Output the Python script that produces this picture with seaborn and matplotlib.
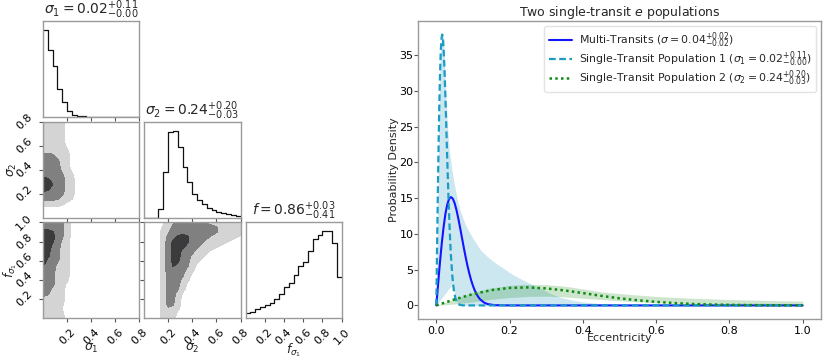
import numpy as np
import pandas as pd
import matplotlib
matplotlib.use("Agg")
import matplotlib.pyplot as plt
import seaborn as sns

# ------------------------------------------------------------------ data
# corner-plot 1D marginals (relative counts, 20 bins each)
sigma1_edges_range = (0.0, 0.8)
sigma2_edges_range = (0.0, 0.8)
f_edges_range = (0.0, 1.0)
sigma1_hist = [265, 202, 154, 84, 46, 17, 6, 3, 2, 1.5, 1, 1, 1, 1, 1, 1, 1, 1, 1, 1]
sigma2_hist = [0, 0, 0, 26, 140, 258, 263, 213, 153, 108, 73, 53, 41, 31, 23, 18, 15, 11, 9, 7]
f_hist = [15, 18, 28, 34, 38, 45, 58, 72, 92, 105, 130, 155, 168, 200, 237, 250, 260, 260, 225, 122]

# corner-plot 2D credible-region levels (0 = outside, 1..3 = nested regions)
# rows from top of panel to bottom, columns from left to right (21 x 21)
grid_s1_s2 = [
    "11111", "11111", "11111", "11111", "11111", "11111", "111111",
    "222111", "222211", "222211", "222211", "2222211", "3322211",
    "3332211", "3322211", "2222211", "2222111", "11111", "", "", "",
]
grid_s1_f = [
    "222221", "222221", "333221", "333221", "333211", "332211", "332211",
    "332211", "322211", "322111", "222111", "222111", "222111", "22211",
    "22111", "22111", "11111", "11111", "1111", "11111", "11111",
]
grid_s2_f = [
    "000001122222211111111", "000011222222222211111", "000011222222222211111",
    "000012233322221111110", "000012333322211111000", "000012333222111100000",
    "000012332221110000000", "000012332211100000000", "000012332211000000000",
    "000012322210000000000", "000012322110000000000", "0000122221",
    "0000122211", "000012221", "000012221", "00001221", "00001221",
    "00001221", "00001211", "0000111", "0000111",
]

corner_titles = [r"$\sigma_1 = 0.02^{+0.11}_{-0.00}$",
                 r"$\sigma_2 = 0.24^{+0.20}_{-0.03}$",
                 r"$f = 0.86^{+0.03}_{-0.41}$"]
corner_labels = [r"$\sigma_1$", r"$\sigma_2$", r"$f_{\sigma_1}$"]
sigma_ticks = [0.2, 0.4, 0.6, 0.8]
f_ticks = [0.2, 0.4, 0.6, 0.8, 1.0]

# right panel: eccentricity distributions
ecc_multi = [0, .005, .01, .015, .02, .025, .03, .035, .04, .045, .05, .055, .06,
             .065, .07, .075, .08, .085, .09, .095, .1, .105, .11, .115, .12, .13,
             .14, .16, .2, .3, 1.0]
pdf_multi = [0, 3.10, 6.06, 8.74, 11.03, 12.86, 14.15, 14.92, 15.16, 14.94, 14.31,
             13.36, 12.17, 10.85, 9.47, 8.08, 6.77, 5.56, 4.48, 3.54, 2.75, 2.09,
             1.57, 1.15, 0.83, 0.41, 0.19, 0.03, 0, 0, 0]

ecc_pop1 = [0, .002, .004, .006, .008, .010, .012, .014, .016, .018, .020, .022,
            .024, .026, .028, .030, .032, .034, .036, .038, .040, .044, .048, .052,
            .056, .060, .064, .072, .08, .1, 1.0]
pdf_pop1 = [0, 7.75, 15.2, 21.85, 27.6, 32.14, 35.4, 37.3, 37.9, 37.34, 35.77, 33.4,
            30.44, 27.13, 23.66, 20.2, 16.9, 13.9, 11.19, 8.85, 6.86, 3.92, 2.08,
            1.03, 0.48, 0.21, 0.084, 0.011, 0, 0, 0]

ecc_pop2 = [0, .05, .1, .15, .2, .25, .3, .35, .4, .45, .5, .55, .6, .65, .7, .75,
            .8, .85, .9, .95, 1.0]
pdf_pop2 = [0, 0.85, 1.59, 2.14, 2.45, 2.52, 2.38, 2.10, 1.73, 1.34, 0.99, 0.72,
            0.50, 0.33, 0.20, 0.13, 0.08, 0.05, 0.03, 0.02, 0.01]

band1_ecc = [0, .004, .008, .012, .016, .020, .024, .028, .032, .036, .040, .044,
             .048, .052, .056, .060, .064, .07, .08, .1, .12, .14, .16, .18, .2,
             .22, .25, .28, .31, .34, .37, .4, .45, .5, .6, .8, 1.0]
band1_hi = [0, 16, 29, 36.5, 38.3, 37.5, 32, 27.5, 24, 21.5, 20, 18.5, 17.3, 16.2,
            15.2, 14.3, 13.5, 12.6, 11.2, 9.4, 7.8, 6.8, 6.0, 5.3, 4.6, 4.0, 3.2,
            2.5, 1.7, 1.1, 0.75, 0.48, 0.25, 0.12, 0.04, 0.01, 0]
band1_lo = [0, .28, .55, .83, 1.1, 1.38, 1.65, 1.9, 2.2, 2.45, 2.7, 2.9, 2.08, 1.03,
            .48, .21, .08, 0, 0, 0, 0, 0, 0, 0, 0, 0, 0, 0, 0, 0, 0, 0, 0, 0, 0, 0, 0]

band2_ecc = [0, .05, .1, .15, .2, .25, .3, .35, .4, .45, .5, .6, .7, .8, .9, 1.0]
band2_hi = [0, .9, 1.8, 2.45, 2.8, 2.95, 2.9, 2.7, 2.3, 1.9, 1.65, 1.25, 1.0, .83, .7, .6]
band2_lo = [0, .2, .5, .85, 1.1, 1.25, 1.3, 1.2, 1.0, .83, .65, .37, .22, .14, .08, .05]

legend_labels = [r"Multi-Transits ($\sigma = 0.04^{+0.02}_{-0.02}$)",
                 r"Single-Transit Population 1 ($\sigma_1 = 0.02^{+0.11}_{-0.00}$)",
                 r"Single-Transit Population 2 ($\sigma_2 = 0.24^{+0.20}_{-0.03}$)"]

# ------------------------------------------------------------------ style
sns.set_theme(style="white")
plt.rcParams["font.family"] = ["DejaVu Sans"]
plt.rcParams["mathtext.fontset"] = "dejavusans"
SPINE = "#9a9a9a"
plt.rcParams.update({
    "axes.edgecolor": SPINE,
    "axes.linewidth": 1.0,
    "xtick.bottom": True, "ytick.left": True,
    "xtick.color": "#555555", "ytick.color": "#555555",
    "xtick.labelcolor": "black", "ytick.labelcolor": "black",
    "xtick.major.size": 3, "ytick.major.size": 3,
    "xtick.major.width": 0.8, "ytick.major.width": 0.8,
})

fig = plt.figure(figsize=(8.3, 3.62), dpi=100)
W, H = 830.0, 362.0


def px_axes(x0, y0, x1, y1):
    return fig.add_axes([x0 / W, 1 - y1 / H, (x1 - x0) / W, (y1 - y0) / H])


def soften(z):
    """light 3x3 binomial smoothing of the level grid (rounds region corners)"""
    k = (0.25, 0.5, 0.25)
    zp = np.pad(z, 1, mode="edge")
    z1 = k[0] * zp[:, :-2] + k[1] * zp[:, 1:-1] + k[2] * zp[:, 2:]
    return k[0] * z1[:-2, :] + k[1] * z1[1:-1, :] + k[2] * z1[2:, :]


col_px = [(43, 139), (144, 240.5), (245.5, 341.5)]
row_px = [(21, 117), (122, 218), (222.5, 318)]
ranges = [sigma1_edges_range, sigma2_edges_range, f_edges_range]
hists = [sigma1_hist, sigma2_hist, f_hist]
ticks = [sigma_ticks, sigma_ticks, f_ticks]
grids = {(1, 0): grid_s1_s2, (2, 0): grid_s1_f, (2, 1): grid_s2_f}
fill_colors = ["#d4d4d4", "#808080", "#3b3b3d"]
tick_fs = 8

for i in range(3):
    for j in range(i + 1):
        ax = px_axes(col_px[j][0], row_px[i][0], col_px[j][1], row_px[i][1])
        xr = ranges[j]
        if i == j:
            h = np.array(hists[i], dtype=float)
            edges = np.linspace(xr[0], xr[1], len(h) + 1)
            centers = 0.5 * (edges[1:] + edges[:-1])
            hdf = pd.DataFrame({"value": centers, "count": h})
            sns.histplot(data=hdf, x="value", weights="count", bins=list(edges),
                         element="step", fill=False, color="#111111",
                         linewidth=0.9, ax=ax)
            ax.set_ylim(0, 1.1 * h.max())
            ax.set_yticks([])
            ax.set_ylabel("")
            ax.set_title(corner_titles[i], fontsize=10, pad=2)
        else:
            yr = ranges[i]
            rows = grids[(i, j)]
            z = np.array([[int(c) for c in r.ljust(21, "0")] for r in rows], float)[::-1]
            gx = np.linspace(xr[0], xr[1], z.shape[1])
            gy = np.linspace(yr[0], yr[1], z.shape[0])
            ax.contourf(gx, gy, soften(z), levels=[0.5, 1.5, 2.5, 3.5],
                        colors=fill_colors)
            ax.set_ylim(*yr)
            ax.set_yticks(ticks[i])
            if j == 0:
                ax.set_yticklabels([f"{t:.1f}" for t in ticks[i]], rotation=45,
                                   fontsize=tick_fs, va="center")
                ax.set_ylabel(corner_labels[i], fontsize=9)
                ax.yaxis.set_label_coords(-0.25, 0.5)
            else:
                ax.set_yticklabels([])
        ax.set_xlim(*xr)
        ax.set_xticks(ticks[j])
        if i == 2:
            ax.set_xticklabels([f"{t:.1f}" for t in ticks[j]], rotation=45,
                               fontsize=tick_fs, ha="center")
            ax.set_xlabel(corner_labels[j], fontsize=9)
            ax.xaxis.set_label_coords(0.5, -0.25)
        else:
            ax.set_xticklabels([])
            ax.set_xlabel("")
        for s in ax.spines.values():
            s.set_color(SPINE)

# ------------------------------------------------------------------ right panel
axr = px_axes(418, 21, 821, 319)
axr.fill_between(band1_ecc, band1_lo, band1_hi, color="lightblue", alpha=0.6, lw=0)
axr.fill_between(band2_ecc, band2_lo, band2_hi, color="green", alpha=0.2, lw=0)
sns.lineplot(x=ecc_multi, y=pdf_multi, ax=axr, color="#1414ff", lw=1.5,
             estimator=None, sort=False, label=legend_labels[0])
sns.lineplot(x=ecc_pop1, y=pdf_pop1, ax=axr, color="#1a9cc4", lw=1.6,
             linestyle=(0, (3.0, 1.6)), estimator=None, sort=False,
             label=legend_labels[1])
sns.lineplot(x=ecc_pop2, y=pdf_pop2, ax=axr, color="#108a10", lw=1.8,
             linestyle=(0, (1.0, 1.3)), estimator=None, sort=False,
             label=legend_labels[2])
axr.set_xlim(-0.05, 1.05)
axr.set_ylim(-1.9, 39.8)
axr.set_xticks([0.0, 0.2, 0.4, 0.6, 0.8, 1.0])
axr.set_yticks([0, 5, 10, 15, 20, 25, 30, 35])
axr.tick_params(labelsize=8)
axr.tick_params(axis="x", pad=2)
axr.tick_params(axis="y", pad=0.3)
axr.set_xlabel("Eccentricity", fontsize=8)
axr.xaxis.set_label_coords(0.5, -0.047)
axr.set_ylabel("Probability Density", fontsize=8)
axr.yaxis.set_label_coords(-0.047, 0.5)
axr.set_title(r"Two single-transit $e$ populations", fontsize=9, pad=3)
leg = axr.legend(loc="upper right", fontsize=7.8, frameon=True, handlelength=2.1,
                 handletextpad=0.7, borderaxespad=0.45, labelspacing=-0.05,
                 borderpad=0.4)
leg.get_frame().set_edgecolor("#dddddd")
for s in axr.spines.values():
    s.set_color(SPINE)

fig.savefig("out.png", dpi=100)
